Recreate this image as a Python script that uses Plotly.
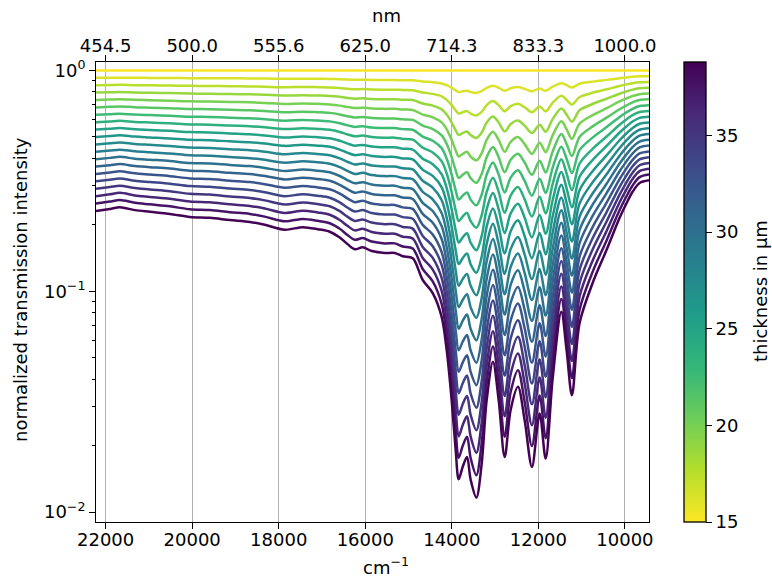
import numpy as np
import plotly.graph_objects as go
from plotly.colors import sample_colorscale

# Transmission spectrum of the thickest sample (38.75 µm), normalized to the 15 µm sample
ref_wavenumber = [22222, 21901, 21670, 21323, 20977, 20515, 20053, 19591, 19129, 18667,
                  18321, 17859, 17443, 17097, 16820, 16589, 16404, 16243, 16058, 15850,
                  15550, 15318, 15134, 14903, 14672, 14441, 14233, 14118, 14003, 13910,
                  13841, 13749, 13649, 13564, 13432, 13310, 13194, 13049, 12917, 12778,
                  12640, 12471, 12316, 12148, 11970, 11831, 11670, 11469, 11347, 11224,
                  11047, 10746, 10423, 10122, 9960, 9822, 9660, 9443]
thickest_transmission = [0.231, 0.236, 0.240, 0.233, 0.229, 0.224, 0.217, 0.215, 0.210, 0.206,
                         0.200, 0.190, 0.195, 0.191, 0.186, 0.175, 0.163, 0.155, 0.158, 0.152,
                         0.149, 0.149, 0.144, 0.141, 0.1124, 0.0981, 0.0763, 0.0541, 0.0321, 0.0190,
                         0.01406, 0.0160, 0.01775, 0.0140, 0.01162, 0.0165, 0.0321, 0.0479, 0.0321, 0.01775,
                         0.0290, 0.0369, 0.0260, 0.0160, 0.0279, 0.01746, 0.0401, 0.0807, 0.0540, 0.0338,
                         0.0718, 0.1089, 0.154, 0.215, 0.251, 0.282, 0.309, 0.318]

# Sample thicknesses in µm
thickness = [15.0, 16.25, 17.5, 18.75, 20.0, 21.25, 22.5, 23.75, 25.0, 26.25,
             27.5, 28.75, 30.0, 31.25, 32.5, 33.75, 35.0, 36.25, 37.5, 38.75]

# Wavenumber ticks and their wavelengths
wn_ticks = [22000, 20000, 18000, 16000, 14000, 12000, 10000]
nm_labels = ["454.5", "500.0", "555.6", "625.0", "714.3", "833.3", "1000.0"]

cb_min, cb_max = 15.0, 38.8
d_ref = thickness[0]
d_max = thickness[-1]

nu = np.array(ref_wavenumber, dtype=float)
absorb_per_um = -np.log10(np.array(thickest_transmission)) / (d_max - d_ref)

FONT = "DejaVu Sans"
FS = 18

fig = go.Figure()

for d in thickness:
    frac = 1 - (d - cb_min) / (cb_max - cb_min)
    color = sample_colorscale("Viridis", [frac])[0]
    trans = 10 ** (-absorb_per_um * (d - d_ref))
    fig.add_trace(go.Scatter(
        x=nu, y=trans, mode="lines",
        line=dict(color=color, width=2.5, shape="spline", smoothing=0.9),
        showlegend=False, hoverinfo="skip",
    ))

# Invisible trace carrying the thickness colorbar (also anchors the top axis)
fig.add_trace(go.Scatter(
    x=[nu[0]], y=[1.0], xaxis="x2", mode="markers",
    marker=dict(
        size=1, opacity=0, color=[cb_min], cmin=cb_min, cmax=cb_max,
        colorscale="Viridis_r", showscale=True,
        colorbar=dict(
            x=(684 - 96) / 553, xanchor="left", y=0, yanchor="bottom",
            xpad=0, ypad=0,
            len=1, lenmode="fraction", thickness=22, thicknessmode="pixels",
            outlinewidth=1.3, outlinecolor="black",
            tickmode="array", tickvals=[15, 20, 25, 30, 35],
            ticks="outside", ticklen=5.8, tickwidth=1.3, tickcolor="black",
            tickfont=dict(family=FONT, size=FS, color="black"),
        ),
    ),
    showlegend=False, hoverinfo="skip",
))

x_range = [22222, 9443]
y_range = [np.log10(0.00901), np.log10(1.092)]

minor_vals = [m * 10.0 ** e for e in (-2, -1) for m in range(2, 10)]

fig.update_layout(
    width=772, height=580,
    margin=dict(l=96, r=123, t=62, b=58),
    paper_bgcolor="white", plot_bgcolor="white",
    font=dict(family=FONT, size=FS, color="black"),
    xaxis=dict(
        range=x_range, tickmode="array", tickvals=wn_ticks,
        ticktext=[str(v) for v in wn_ticks],
        showgrid=True, gridcolor="#b0b0b0", gridwidth=1.3,
        showline=True, linecolor="black", linewidth=1.3, mirror=True,
        ticks="outside", ticklen=5.8, tickwidth=1.3, tickcolor="black",
        zeroline=False, tickfont=dict(family=FONT, size=FS),
        ticklabelstandoff=-5,
    ),
    xaxis2=dict(
        range=x_range, overlaying="x", side="top", anchor="y",
        tickmode="array", tickvals=wn_ticks, ticktext=nm_labels,
        showgrid=False, showline=False, zeroline=False,
        ticks="outside", ticklen=5.8, tickwidth=1.3, tickcolor="black",
        tickfont=dict(family=FONT, size=FS),
        ticklabelstandoff=-4,
    ),
    yaxis=dict(
        type="log", range=y_range, tickmode="array",
        tickvals=[0.01, 0.1, 1.0],
        ticktext=["10<sup>−2</sup>", "10<sup>−1</sup>", "10<sup>0</sup>"],
        showgrid=False, zeroline=False,
        showline=True, linecolor="black", linewidth=1.3, mirror=True,
        ticks="outside", ticklen=5.8, tickwidth=1.3, tickcolor="black",
        tickfont=dict(family=FONT, size=FS),
        minor=dict(tickmode="array", tickvals=minor_vals, ticks="outside",
                   ticklen=3.3, tickwidth=1, tickcolor="black", showgrid=False),
    ),
    annotations=[
        dict(text="nm", x=(386 - 96) / 553, y=(522 - 15) / 460,
             xref="paper", yref="paper", showarrow=False,
             xanchor="center", yanchor="middle", font=dict(size=FS)),
        dict(text="cm<sup>−1</sup>", x=(386 - 96) / 553, y=(522 - 566) / 460,
             xref="paper", yref="paper", showarrow=False,
             xanchor="center", yanchor="middle", font=dict(size=FS)),
        dict(text="normalized transmission intensity", x=(20 - 96) / 553,
             y=(522 - 290) / 460, xref="paper", yref="paper", showarrow=False,
             textangle=-90, xanchor="center", yanchor="middle", font=dict(size=FS)),
        dict(text="thickness in µm", x=(760 - 96) / 553,
             y=(522 - 291) / 460, xref="paper", yref="paper", showarrow=False,
             textangle=-90, xanchor="center", yanchor="middle", font=dict(size=FS)),
    ],
)

fig.write_html("out.html")
